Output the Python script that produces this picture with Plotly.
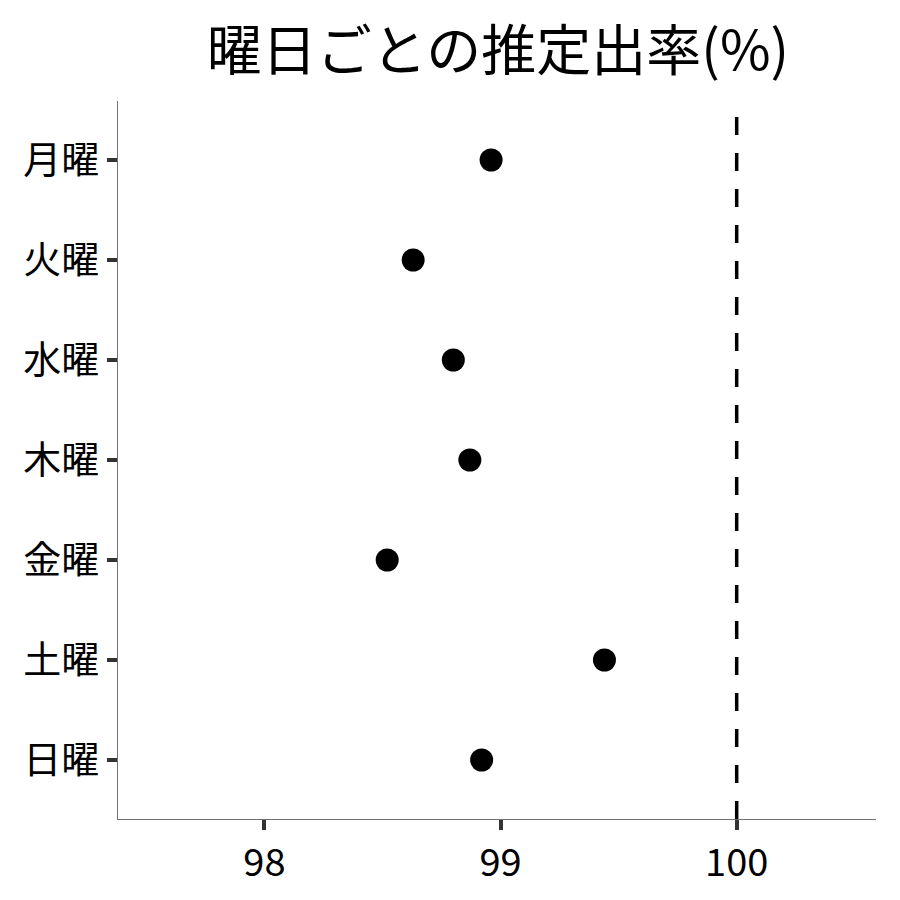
import plotly.graph_objects as go

font_family = "Noto Sans CJK JP"

days = ["月曜", "火曜", "水曜", "木曜", "金曜", "土曜", "日曜"]
rates = [98.96, 98.63, 98.80, 98.87, 98.52, 99.44, 98.92]
ref_value = 100
x_ticks = [98, 99, 100]

fig = go.Figure()

fig.add_trace(go.Scatter(x=rates, y=days,
                         mode='markers',
                         marker={'size': 23, 'color': 'black'},
                         showlegend=False
                         )
              )

# dashed reference line at 100%
fig.add_vline(x=ref_value, line={'color': 'black', 'width': 3.5, 'dash': '18px,18px'})

axis_style = {
    'ticks': 'outside',
    'ticklen': 10,
    'tickwidth': 4,
    'tickcolor': '#333333',
    'showline': True,
    'linecolor': '#707070',
    'linewidth': 1.4,
    'showgrid': False,
    'zeroline': False,
}

fig.update_layout(
    title={
        'text': '曜日ごとの推定出率(%)',
        'font': {'size': 55, 'color': 'black', 'family': font_family},
        'x': 490 / 900,
        'xanchor': 'center',
        'y': 0.952,
        'yanchor': 'middle'
    },
    width=900,
    height=900,
    margin={'l': 110, 'r': 32, 't': 93, 'b': 89},
    plot_bgcolor='white',
    paper_bgcolor='white',
    font={'family': font_family, 'size': 38, 'color': 'black'},
    xaxis={
        'range': [97.38, 100.59],
        'tickvals': x_ticks,
        **axis_style
    },
    yaxis={
        'categoryorder': 'array',
        'categoryarray': days,
        'autorange': False,
        'range': [6.59, -0.59],
        **axis_style
    },
)

fig.write_html("out.html")
